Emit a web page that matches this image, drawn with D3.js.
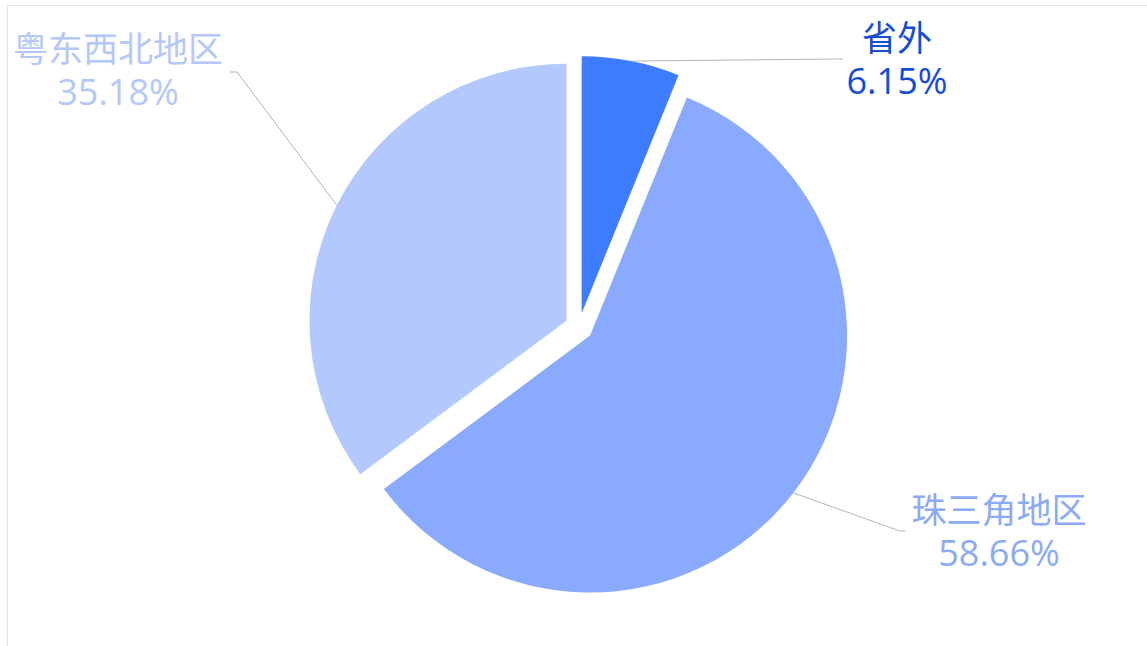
<!DOCTYPE html>
<html>
<head>
<meta charset="utf-8">
<script src="https://cdn.jsdelivr.net/npm/d3@7"></script>
<style>
  body { margin: 0; background: #fff; }
  text { font-family: "Microsoft YaHei", "Noto Sans CJK SC", sans-serif; }
  .pct { font-family: "Segoe UI", "Open Sans", "Noto Sans CJK SC", sans-serif; }
</style>
</head>
<body>
<script>
var width = 1147;
var height = 646;

// data
var categories = ["省外", "珠三角地区", "粤东西北地区"];
var values = [6.15, 58.66, 35.18];
var valueLabels = ["6.15%", "58.66%", "35.18%"];

// styles
var sliceColors = ["#3d7bff", "#89aafd", "#b3c9fd"];
var labelColors = ["#164bd6", "#8aabf5", "#b3c7f8"];

// layout
var cx = 579, cy = 327, radius = 257, explode = 14;
var labelLayout = [
  {x: 897, y: 51, elbow: [838, 59], end: [843, 59]},
  {x: 999, y: 523, elbow: [900, 531], end: [905, 531]},
  {x: 118, y: 62, elbow: [237, 72], end: [230, 72]}
];

var svg = d3.select("body").append("svg")
    .attr("width", width)
    .attr("height", height);

// faint frame
svg.append("path")
    .attr("d", "M7.5," + height + "V5.5H" + width)
    .attr("fill", "none")
    .attr("stroke", "#e4e4e4");

var rows = categories.map(function (c, i) { return {name: c, value: values[i], i: i}; });

var pie = d3.pie().sort(null).value(function (d) { return d.value; });
var arc = d3.arc().innerRadius(0).outerRadius(radius);
var arcs = pie(rows);

function mid(a) { return (a.startAngle + a.endAngle) / 2; }

var g = svg.append("g").attr("transform", "translate(" + cx + "," + cy + ")");

g.selectAll(".slice")
    .data(arcs)
  .enter().append("path")
    .attr("class", "slice")
    .attr("transform", function (d) {
      var m = mid(d);
      return "translate(" + (explode * Math.sin(m)) + "," + (-explode * Math.cos(m)) + ")";
    })
    .attr("d", arc)
    .style("fill", function (d) { return sliceColors[d.data.i]; });

// leader lines
svg.selectAll(".leader")
    .data(arcs)
  .enter().append("polyline")
    .attr("class", "leader")
    .attr("points", function (d) {
      var m = mid(d), rr = radius + explode;
      var L = labelLayout[d.data.i];
      var p0 = [cx + rr * Math.sin(m), cy - rr * Math.cos(m)];
      return [p0, L.elbow, L.end].map(function (p) { return p.join(","); }).join(" ");
    })
    .attr("fill", "none")
    .attr("stroke", "#b4b4b4")
    .attr("stroke-width", 1);

// labels: name line and percent line
svg.selectAll(".name")
    .data(arcs)
  .enter().append("text")
    .attr("class", "name")
    .attr("text-anchor", "middle")
    .attr("x", function (d) { return labelLayout[d.data.i].x; })
    .attr("y", function (d) { return labelLayout[d.data.i].y; })
    .style("font-size", "35px")
    .style("fill", function (d) { return labelColors[d.data.i]; })
    .text(function (d) { return d.data.name; });

svg.selectAll(".pct")
    .data(arcs)
  .enter().append("text")
    .attr("class", "pct")
    .attr("text-anchor", "middle")
    .attr("x", function (d) { return labelLayout[d.data.i].x; })
    .attr("y", function (d) { return labelLayout[d.data.i].y + 43; })
    .style("font-size", "36px")
    .style("fill", function (d) { return labelColors[d.data.i]; })
    .text(function (d) { return valueLabels[d.data.i]; });
</script>
</body>
</html>
